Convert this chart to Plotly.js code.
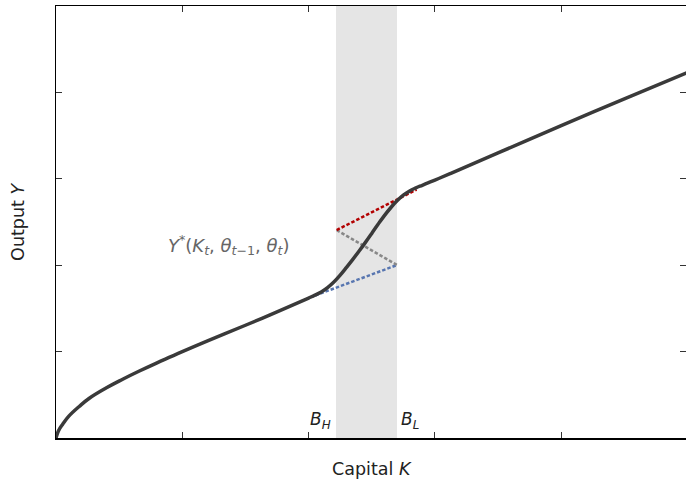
<!DOCTYPE html>
<html><head><meta charset="utf-8">
<script src="https://cdn.plot.ly/plotly-3.0.1.min.js"></script>
<style>html,body{margin:0;padding:0;background:#fff}#chart{width:686px;height:483px}</style>
</head><body><div id="chart"></div>
<script>
// Output curve Y(K)
var curveK = [0, 0.02, 0.053, 0.1, 0.184, 0.264, 0.396, 0.528, 0.66, 0.8, 0.9, 1.0, 1.2, 1.5, 1.75, 2.0,
  2.05, 2.1, 2.15, 2.2, 2.25, 2.3, 2.35, 2.4, 2.45, 2.5, 2.55, 2.6, 2.65, 2.7, 2.75, 2.8, 2.85, 2.9, 2.95, 3.0,
  3.12, 3.5, 4.0, 4.5, 5.0];
var curveY = [0, 0.085, 0.16, 0.25, 0.365, 0.46, 0.578, 0.68, 0.775, 0.87, 0.935, 1.0, 1.125, 1.305, 1.46, 1.62,
  1.653, 1.69, 1.74, 1.805, 1.885, 1.975, 2.068, 2.164, 2.264, 2.368, 2.473, 2.574, 2.665, 2.745, 2.81, 2.86, 2.895, 2.925, 2.955, 2.985,
  3.06, 3.30, 3.615, 3.925, 4.23];
// dotted segments
var redK = [2.222, 2.855], redY = [2.407, 2.875];
var grayK = [2.222, 2.700], grayY = [2.407, 2.002];
var blueK = [2.011, 2.700], blueY = [1.627, 2.002];
// band between thresholds
var bandK = [2.217, 2.700];
var tickVals = [0, 1, 2, 3, 4, 5];

var font = "'DejaVu Sans', sans-serif";
var dash = "3.5px,2px";
var traces = [
  {x: blueK, y: blueY, mode: 'lines', line: {color: '#5876b0', width: 2.5, dash: dash}, hoverinfo: 'skip'},
  {x: grayK, y: grayY, mode: 'lines', line: {color: '#888888', width: 2.5, dash: dash}, hoverinfo: 'skip'},
  {x: redK, y: redY, mode: 'lines', line: {color: '#b30000', width: 2.5, dash: dash}, hoverinfo: 'skip'},
  {x: curveK, y: curveY, mode: 'lines', line: {color: '#3a3a3a', width: 3.5, shape: 'spline', smoothing: 1.2, simplify: false}, hoverinfo: 'skip'}
];
var axBase = {showgrid: false, zeroline: false, showline: true, linecolor: '#000', linewidth: 1.5,
  ticks: 'inside', ticklen: 6, tickwidth: 1, tickcolor: '#333', showticklabels: false,
  tickvals: tickVals, mirror: 'ticks', fixedrange: true};
var layout = {
  width: 686, height: 483,
  margin: {l: 56, r: 0, t: 6, b: 45},
  paper_bgcolor: '#fff', plot_bgcolor: '#fff',
  showlegend: false,
  xaxis: Object.assign({}, axBase, {range: [0, 4.988]}),
  yaxis: Object.assign({}, axBase, {range: [0, 5]}),
  shapes: [{type: 'rect', xref: 'x', yref: 'paper', x0: bandK[0], x1: bandK[1], y0: 0, y1: 1,
    fillcolor: '#e5e5e5', line: {width: 0}, layer: 'below'}],
  annotations: [
    {xref: 'x', yref: 'y', x: bandK[0] - 0.12, y: 0.20, text: '<i>B</i><sub><i>H</i></sub>', showarrow: false,
      font: {family: font, size: 17, color: '#222'}},
    {xref: 'x', yref: 'y', x: bandK[1] + 0.10, y: 0.20, text: '<i>B</i><sub><i>L</i></sub>', showarrow: false,
      font: {family: font, size: 17, color: '#222'}},
    {xref: 'x', yref: 'y', x: 1.373, y: 2.234,
      text: '<i>Y</i><sup>*</sup>(<i>K</i><sub><i>t</i></sub>, <i>θ</i><sub><i>t</i>−1</sub>, <i>θ</i><sub><i>t</i></sub>)',
      showarrow: false, font: {family: font, size: 18, color: '#666'}},
    {xref: 'paper', yref: 'paper', x: 0.501, y: -0.072, yanchor: 'middle', text: 'Capital <i>K</i>', showarrow: false,
      font: {family: font, size: 17.5, color: '#222'}},
    {xref: 'paper', yref: 'paper', x: -0.0605, y: 0.50, xanchor: 'center', text: 'Output <i>Y</i>', textangle: -90, showarrow: false,
      font: {family: font, size: 17.5, color: '#222'}}
  ]
};
Plotly.newPlot('chart', traces, layout, {displayModeBar: false, staticPlot: true});
</script></body></html>
